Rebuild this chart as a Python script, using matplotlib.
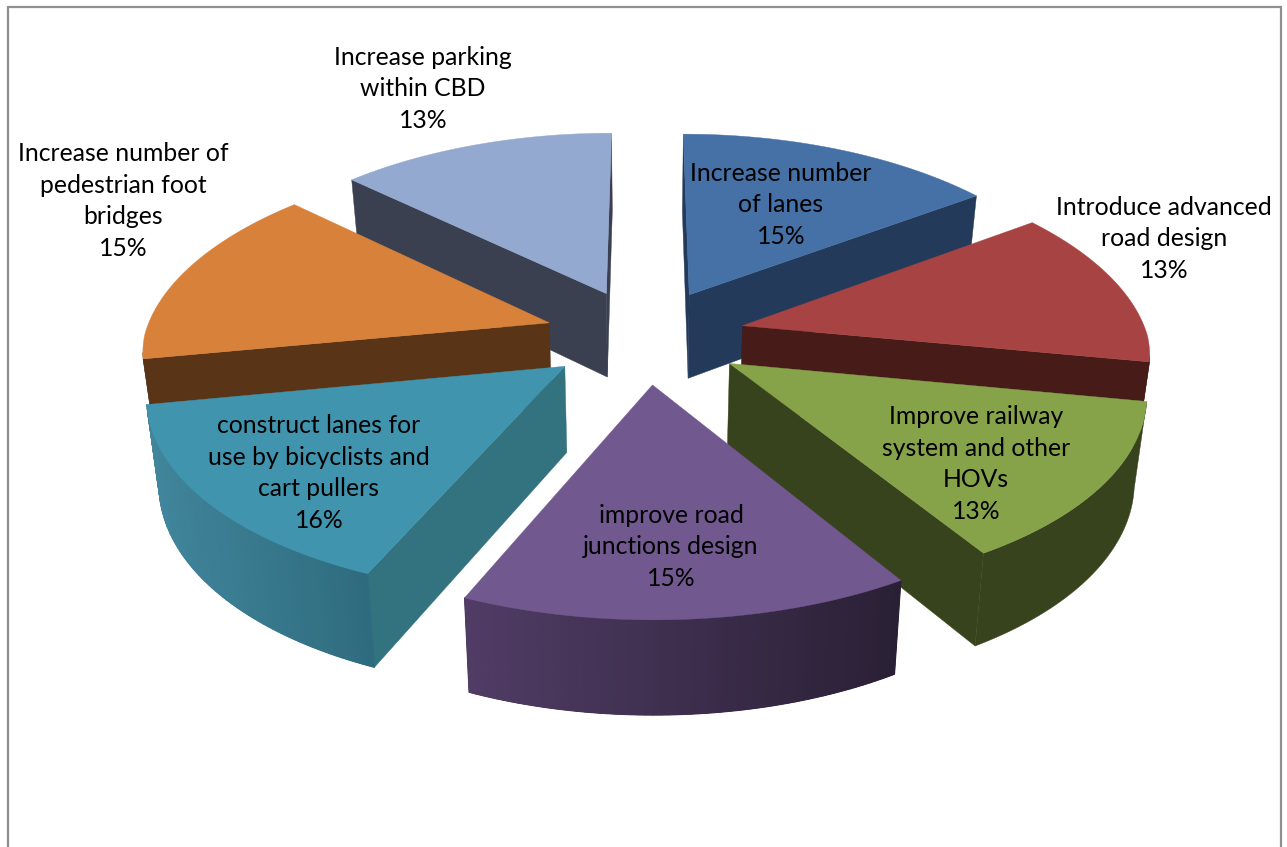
import numpy as np
import matplotlib
matplotlib.use("Agg")
import matplotlib.pyplot as plt
from matplotlib.patches import Polygon

# --- data -----------------------------------------------------------------
categories = ["Increase number\nof lanes", "Introduce advanced\nroad design",
              "Improve railway\nsystem and other\nHOVs", "improve road\njunctions design",
              "construct lanes for\nuse by bicyclists and\ncart pullers",
              "Increase number of\npedestrian foot\nbridges", "Increase parking\nwithin CBD"]
values = [15.0, 13.0, 13.2, 15.3, 15.5, 15.0, 13.0]

# --- style ----------------------------------------------------------------
top_colors = ["#4571A6", "#A74342", "#87A34A", "#71588F", "#4094AE", "#D8813B", "#93A9D0"]
face_colors = ["#243A5A", "#471B18", "#37431D", "#3A2C4A", "#33727F", "#5A3417", "#3A4050"]
outer_left = ["#243A5A", "#471B18", "#37431D", "#503C65", "#41869C", "#5A3417", "#3A4050"]
outer_right = ["#243A5A", "#471B18", "#37431D", "#2A2035", "#2F6B7E", "#5A3417", "#3A4050"]
label_pos = [(781, 205), (1164, 239), (976, 464), (671, 547), (319, 473), (123, 201), (423, 89)]

W, H = 1287, 847
CX, CY = 645, 336      # pie centre in picture
BX, BY = 411, 194      # horizontal and depth scale
PERSP = 0.13           # perspective strength
PERSP_BACK = 0.025     # extra narrowing towards the back
EXPLODE = 0.245
RADIUS = 0.985
THICK = 85             # extrusion in pixels
SHRINK = 0.975         # bottom plane convergence


def proj(u, v, bottom=False):
    u, v = np.asarray(u, float), np.asarray(v, float)
    p = 1.0 / (1.0 - PERSP * v)
    x = BX * u * p * (1 + PERSP_BACK * np.minimum(v, 0))
    y = CY + BY * v * p
    if bottom:
        x = x * SHRINK
        y = y + THICK * p ** 0.65
    return np.column_stack([CX + x, y])


def mix(a, b, t):
    ca, cb = np.array(matplotlib.colors.to_rgb(a)), np.array(matplotlib.colors.to_rgb(b))
    return tuple(ca + (cb - ca) * t)


def visible(edge_a, edge_b, inner):
    ex, ey = edge_b - edge_a
    ix, iy = inner - edge_a
    return (ex * iy - ey * ix) * ex < 0


fig = plt.figure(figsize=(W / 100, H / 100), dpi=100, facecolor="white")
ax = fig.add_axes([0, 0, 1, 1])
ax.set_xlim(0, W)
ax.set_ylim(H, 0)
ax.axis("off")

# chart frame
frame_x = [8, 8, 1281, 1281]
frame_y = [H, 7, 7, H]
ax.plot(frame_x, frame_y, color="#8E8E8E", lw=1.6, solid_joinstyle="miter", zorder=0)

vals = np.array(values, float)
edges = np.concatenate([[0], np.cumsum(vals) / vals.sum() * 2 * np.pi])
mids = (edges[:-1] + edges[1:]) / 2
order = np.argsort(-np.cos(mids))   # back to front

for rank, i in enumerate(order):
    z = 3 + rank
    a0, a1, m = edges[i], edges[i + 1], mids[i]
    ou, ov = EXPLODE * np.sin(m), -EXPLODE * np.cos(m)
    t = np.linspace(a0, a1, 60)
    au, av = ou + RADIUS * np.sin(t), ov - RADIUS * np.cos(t)
    apex_top = proj([ou], [ov])[0]
    apex_bot = proj([ou], [ov], bottom=True)[0]
    arc_top = proj(au, av)
    arc_bot = proj(au, av, bottom=True)
    inner = arc_top[len(t) // 2]

    # radial faces
    for end in (0, -1):
        if visible(apex_top, arc_top[end], inner):
            ax.add_patch(Polygon([apex_top, arc_top[end], arc_bot[end], apex_bot], closed=True,
                                 fc=face_colors[i], ec=face_colors[i], lw=0.3, zorder=z))
    # curved outer wall: one solid base, gradient strips on top when needed
    xs = arc_top[:, 0]
    xmin, xmax = xs.min(), xs.max()
    vis = [k for k in range(len(t) - 1) if visible(arc_top[k], arc_top[k + 1], apex_top)]
    if vis:
        kk = np.arange(vis[0], vis[-1] + 2)
        base = mix(outer_left[i], outer_right[i], 0.5)
        ax.add_patch(Polygon(np.vstack([arc_top[kk], arc_bot[kk][::-1]]), closed=True,
                             fc=base, ec=base, lw=0.3, zorder=z))
        if outer_left[i] != outer_right[i]:
            for k in vis:
                f = ((arc_top[k, 0] + arc_top[k + 1, 0]) / 2 - xmin) / max(xmax - xmin, 1)
                col = mix(outer_left[i], outer_right[i], f)
                ax.add_patch(Polygon([arc_top[k], arc_top[k + 1], arc_bot[k + 1], arc_bot[k]],
                                     closed=True, fc=col, ec=col, lw=0.8, zorder=z))
    # top surface
    ax.add_patch(Polygon(np.vstack([[apex_top], arc_top]), closed=True,
                         fc=top_colors[i], ec=top_colors[i], lw=0.3, zorder=z))

for name, val, (x, y) in zip(categories, values, label_pos):
    ax.text(x, y, f"{name}\n{round(val)}%", ha="center", va="center",
            multialignment="center", family="Lato", fontsize=17.8, color="black",
            linespacing=1.47, zorder=20)

fig.savefig("out.png", dpi=100)
